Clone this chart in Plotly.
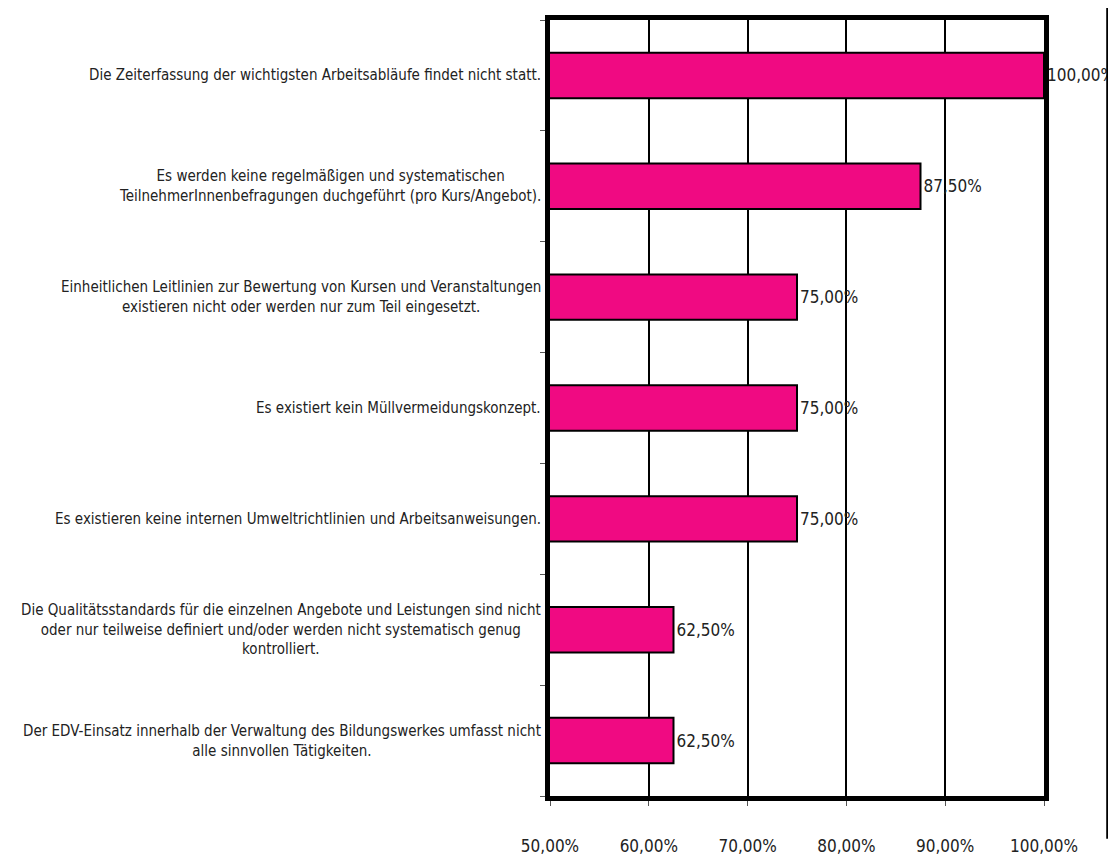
import plotly.graph_objects as go

categories = [
    "Die Zeiterfassung der wichtigsten Arbeitsabläufe findet nicht statt.",
    "Es werden keine regelmäßigen und systematischen<br>TeilnehmerInnenbefragungen duchgeführt (pro Kurs/Angebot).",
    "Einheitlichen Leitlinien zur Bewertung von Kursen und Veranstaltungen<br>existieren nicht oder werden nur zum Teil eingesetzt.",
    "Es existiert kein Müllvermeidungskonzept.",
    "Es existieren keine internen Umweltrichtlinien und Arbeitsanweisungen.",
    "Die Qualitätsstandards für die einzelnen Angebote und Leistungen sind nicht<br>oder nur teilweise definiert und/oder werden nicht systematisch genug<br>kontrolliert.",
    "Der EDV-Einsatz innerhalb der Verwaltung des Bildungswerkes umfasst nicht<br>alle sinnvollen Tätigkeiten.",
]
values = [1.0, 0.875, 0.75, 0.75, 0.75, 0.625, 0.625]
tickvals = [0.5, 0.6, 0.7, 0.8, 0.9, 1.0]

font = "DejaVu Sans Condensed, sans-serif"

fig = go.Figure()
fig.add_trace(go.Bar(
    y=list(range(len(categories))), x=values, orientation='h',
    marker=dict(color='#F00A82', line=dict(color='black', width=2)),
    text=[f"{v*100:.2f}".replace('.', ',') + '%' for v in values],
    textposition='outside', constraintext='none', cliponaxis=False,
    textfont=dict(size=17, color='#222', family=font),
    width=0.41,
))

# Kategorienbeschriftung zentriert, rechtsbündig am Diagramm
for i, c in enumerate(categories):
    fig.add_annotation(x=0, xref='paper', y=i, yref='y', text=c, showarrow=False,
                       xanchor='right', align='center', xshift=-7,
                       font=dict(size=15, color='#222', family=font))

# rechte Rahmenlinie
fig.add_shape(type='line', xref='paper', yref='paper', x0=1.131, x1=1.131, y0=-0.055, y1=1.05,
              line=dict(color='black', width=5))

fig.update_xaxes(range=[0.5, 1.0], tickvals=tickvals, tickformat='.2%',
                 showgrid=True, gridcolor='black', gridwidth=2,
                 showline=True, linecolor='black', linewidth=5, mirror=True,
                 ticks='outside', ticklen=5, tickcolor='#555', tickwidth=1,
                 ticklabelstandoff=26, zeroline=False,
                 tickfont=dict(size=17, color='#222', family=font))
fig.update_yaxes(range=[6.5, -0.5], tickvals=[i + 0.5 for i in range(-1, 7)],
                 showticklabels=False, showgrid=False,
                 showline=True, linecolor='black', linewidth=5, mirror=True,
                 ticks='outside', ticklen=5, tickcolor='#555', tickwidth=1, zeroline=False)

fig.update_layout(width=1108, height=855, separators=',.',
                  margin=dict(l=542, r=72, t=7, b=54),
                  plot_bgcolor='white', paper_bgcolor='white',
                  showlegend=False, font=dict(family=font))
fig.write_html("out.html")
